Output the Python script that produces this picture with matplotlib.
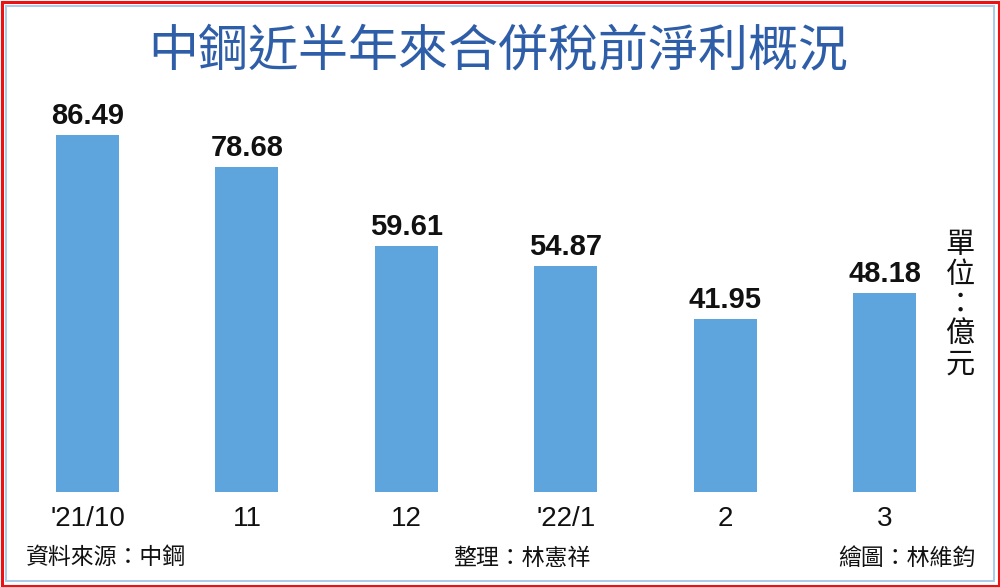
import matplotlib
matplotlib.use("Agg")
import matplotlib.pyplot as plt
from matplotlib.patches import Rectangle

plt.rcParams['font.family'] = ['Noto Sans CJK TC', 'DejaVu Sans']

# data
months = ["'21/10", "11", "12", "'22/1", "2", "3"]
profit = [86.49, 78.68, 59.61, 54.87, 41.95, 48.18]   # 億元

title = "中鋼近半年來合併稅前淨利概況"
unit_chars = ["單", "位", "：", "億", "元"]
src_note = "資料來源：中鋼"
edit_note = "整理：林憲祥"
draw_note = "繪圖：林維鈞"

W, H = 1000, 587
fig = plt.figure(figsize=(W / 100, H / 100), dpi=100)
fig.patch.set_facecolor("white")

# axes: bar bottoms at y=492px, bar centres 87.5px + 159.4px steps
ax_h = 392
ax = fig.add_axes([0, (H - 492) / H, 1, ax_h / H])
ax.set_xlim(-87.5 / 159.4, (W - 87.5) / 159.4)
ax.set_ylim(0, ax_h / 4.125)
ax.axis("off")

x = list(range(len(months)))
ax.bar(x, profit, width=0.395, color="#5ea4dd")

for xi, v in zip(x, profit):
    ax.annotate(f"{v:.2f}", (xi, v), xytext=(0, 8), textcoords="offset points",
                ha="center", va="baseline", fontsize=21, fontweight="bold",
                family="Liberation Sans", color="#111111")

for xi, lab in zip(x, months):
    ax.annotate(lab, (xi, 0), xytext=(0, -24.5), textcoords="offset points",
                ha="center", va="baseline", fontsize=20, family="Liberation Sans",
                color="#111111")

# title
fig.text(0.498, 1 - 52 / H, title, ha="center", va="center", fontsize=36,
         fontweight="medium", color="#2f5ea8")

# vertical unit label
for i, ch in enumerate(unit_chars):
    fig.text(960 / W, 1 - (245 + 29.8 * i) / H, ch, ha="center", va="center",
             fontsize=21, color="#111111")

# footer notes
fig.text(26 / W, 1 - 558 / H, src_note, ha="left", va="center", fontsize=16.5, color="#111111")
fig.text(522 / W, 1 - 558 / H, edit_note, ha="center", va="center", fontsize=16.5, color="#111111")
fig.text(975 / W, 1 - 558 / H, draw_note, ha="right", va="center", fontsize=16.5, color="#111111")

# frame: red outer line, light blue inner line
fig.patches.append(Rectangle((1.5 / W, 1.5 / H), (W - 3) / W, (H - 3) / H,
                             transform=fig.transFigure, fill=False,
                             edgecolor="#ee1111", linewidth=2.2))
fig.patches.append(Rectangle((5.5 / W, 6 / H), (W - 12) / W, (H - 12) / H,
                             transform=fig.transFigure, fill=False,
                             edgecolor="#a9cbe8", linewidth=1.4))

fig.savefig("out.png", dpi=100)
